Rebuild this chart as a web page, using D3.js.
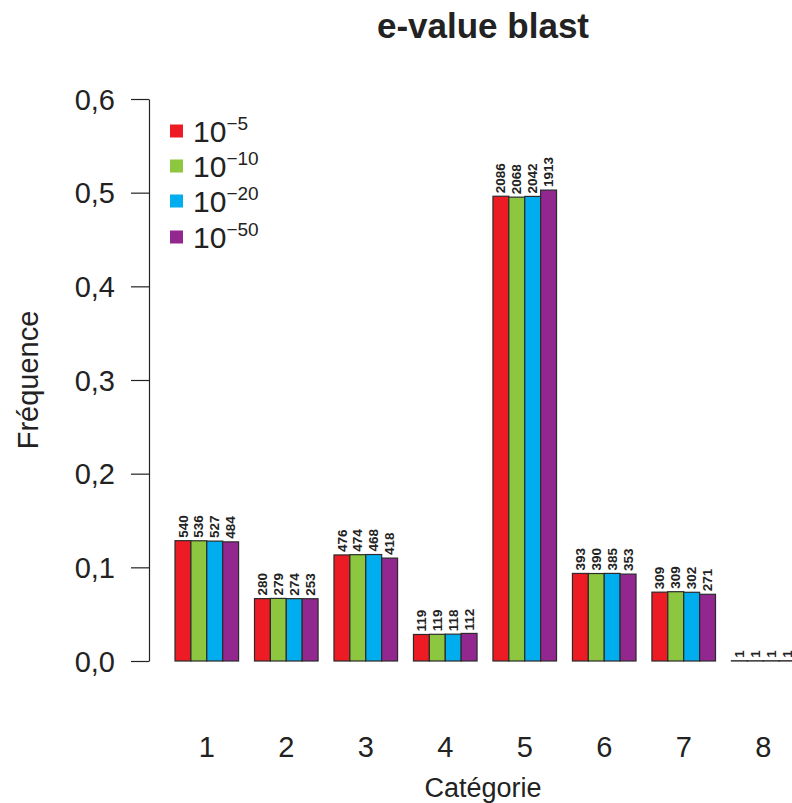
<!DOCTYPE html>
<html><head><meta charset="utf-8">
<script src="https://cdn.jsdelivr.net/npm/d3@7"></script>
<style>body{margin:0;background:#fff}</style>
</head><body>
<svg id="c" width="792" height="803"></svg>
<script>
const categories = ["1","2","3","4","5","6","7","8"];
const seriesExponents = ["−5","−10","−20","−50"];
const counts5  = [540,280,476,119,2086,393,309,1];
const counts10 = [536,279,474,119,2068,390,309,1];
const counts20 = [527,274,468,118,2042,385,302,1];
const counts50 = [484,253,418,112,1913,353,271,1];
const seriesColors = ["#ED1C24","#8DC63F","#00AEEF","#92278F"];
const yTicks = [0,0.1,0.2,0.3,0.4,0.5,0.6];

const series = [counts5, counts10, counts20, counts50];
const FONT = "'Liberation Sans', Arial, Helvetica, sans-serif";
const svg = d3.select("#c").style("font-family", FONT);

const x = d3.scaleLinear().domain([1, 40]).range([175, 795]);
const y = d3.scaleLinear().domain([0, 0.6]).range([661, 99]);

const bars = [];
series.forEach((arr, s) => {
  const total = d3.sum(arr);
  arr.forEach((c, g) => {
    bars.push({g, s, count: c, freq: c / total, u: 1 + g * 5 + s});
  });
});

// bars
svg.append("g").selectAll("rect").data(bars).join("rect")
  .attr("x", d => x(d.u))
  .attr("width", d => x(d.u + 1) - x(d.u))
  .attr("y", d => y(d.freq))
  .attr("height", d => y(0) - y(d.freq))
  .attr("fill", d => seriesColors[d.s])
  .attr("stroke", "#2b2b2b")
  .attr("stroke-width", 1.2);

// value labels
svg.append("g").selectAll("text").data(bars).join("text")
  .attr("transform", d => `translate(${x(d.u + 0.5) + 4.6},${y(d.freq) - 3}) rotate(-90)`)
  .attr("text-anchor", "start")
  .attr("font-size", 13.5)
  .attr("font-weight", "bold")
  .attr("fill", "#222")
  .text(d => d.count);

// y axis
const yAxis = d3.axisLeft(y).tickValues(yTicks)
  .tickFormat(d => d.toFixed(1).replace(".", ","))
  .tickSize(18).tickSizeOuter(0).tickPadding(16);
const ya = svg.append("g").attr("transform", "translate(149,0)").call(yAxis);
ya.selectAll("path, line").attr("stroke", "#222").attr("stroke-width", 1.2);
ya.selectAll("text").attr("font-size", 29).attr("font-family", FONT).attr("fill", "#222")
  .attr("dy", "0.35em");

// x category labels
svg.append("g").selectAll("text").data(categories).join("text")
  .attr("x", (d, i) => x(1 + i * 5 + 2))
  .attr("y", 757)
  .attr("text-anchor", "middle")
  .attr("font-size", 29)
  .attr("fill", "#222")
  .text(d => d);

// axis titles
svg.append("text").attr("x", 483).attr("y", 797).attr("text-anchor", "middle")
  .attr("font-size", 27).attr("fill", "#222").text("Catégorie");
svg.append("text").attr("transform", "translate(38,380) rotate(-90)").attr("text-anchor", "middle")
  .attr("font-size", 29).attr("fill", "#222").text("Fréquence");

// title
svg.append("text").attr("x", 483).attr("y", 38).attr("text-anchor", "middle")
  .attr("font-size", 35).attr("font-weight", "bold").attr("fill", "#222").text("e-value blast");

// legend
const leg = svg.append("g");
const rowsY = [131, 166, 201, 237];
seriesExponents.forEach((e, i) => {
  leg.append("rect").attr("x", 170).attr("y", rowsY[i] - 6.5).attr("width", 13).attr("height", 13)
    .attr("fill", seriesColors[i]);
  const t = leg.append("text").attr("x", 193).attr("y", rowsY[i] + 11)
    .attr("font-size", 30).attr("fill", "#222");
  t.append("tspan").text("10");
  t.append("tspan").attr("dy", -12).attr("font-size", 19).text(e);
});
</script>
</body></html>
